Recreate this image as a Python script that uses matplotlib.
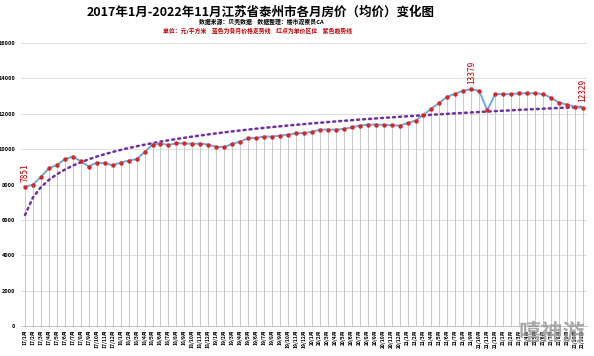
import numpy as np
import matplotlib
matplotlib.use('Agg')
import matplotlib.pyplot as plt

plt.rcParams['font.family'] = ['Noto Sans CJK SC', 'DejaVu Sans']

# monthly average price, 2017/1 .. 2022/11
prices = [7851, 8000, 8430, 8918, 9104, 9425, 9577, 9313, 9014, 9239, 9200, 9087,
          9239, 9352, 9425, 9837, 10253, 10310, 10231, 10327, 10320, 10300, 10310, 10253,
          10120, 10120, 10290, 10420, 10610, 10630, 10705, 10705, 10760, 10817, 10890, 10910,
          10965, 11100, 11100, 11100, 11135, 11228, 11324, 11380, 11380, 11370, 11350, 11320,
          11470, 11605, 11940, 12280, 12620, 12958, 13127, 13296, 13379, 13275, 12186, 13105,
          13105, 13105, 13145, 13145, 13145, 13105, 12900, 12620, 12507, 12395, 12329]
years = [17, 18, 19, 20, 21, 22]
months = [f'{y}/{m}月' for y in years for m in range(1, 13)][:len(prices)]
labeled = [0, 56, 70]  # points with value labels

x = np.arange(len(prices))
y = np.array(prices)

# log trendline fitted on the data (like Excel's)
b, a = np.polyfit(np.log(x + 1), y, 1)
trend = a + b * np.log(x + 1)

fig = plt.figure(figsize=(5.94, 3.56), dpi=100)
ax = fig.add_axes([0.0354, 0.0834, 0.9526, 0.7966])

ax.set_ylim(0, 16000)
ax.set_xlim(-0.5, len(prices) - 0.5)
ax.set_yticks(range(0, 16001, 2000))
ax.grid(axis='y', color='#d9d9d9', linewidth=0.6)
ax.set_axisbelow(True)

# drop lines
ax.vlines(x, 0, y, color='#c8c8c8', linewidth=0.7, zorder=1)

ax.plot(x, y, color='#6fa8dc', linewidth=1.4, zorder=3)
ax.plot(x, y, 'o', color='#d62728', markersize=3.2, markeredgewidth=0, zorder=4)
ax.plot(x, trend, color='#7030a0', linewidth=1.8, linestyle=(0, (0.8, 1.6)),
        dash_capstyle='round', zorder=2)

for i in labeled:
    ax.annotate(str(prices[i]), (i, prices[i]), xytext=(0, 4), textcoords='offset points',
                rotation=90, ha='center', va='bottom', color='#c00000', fontsize=6)

for s in ['top', 'right', 'left']:
    ax.spines[s].set_visible(False)
ax.spines['bottom'].set_color('#bfbfbf')
ax.spines['bottom'].set_linewidth(0.6)

ax.set_xticks(x)
ax.set_xticklabels(months, rotation=90, fontsize=3.6, fontweight='bold')
ax.tick_params(axis='x', length=0, pad=2)
ax.tick_params(axis='y', length=0, labelsize=4, pad=4)
for t in ax.get_yticklabels():
    t.set_fontweight('bold')

fig.text(0.438, 0.966, '2017年1月-2022年11月江苏省泰州市各月房价（均价）变化图',
         ha='center', va='center', fontsize=9, fontweight='bold')
fig.text(0.44, 0.938, '数据来源：贝壳数据    数据整理：楼市观察员CA',
         ha='center', va='center', fontsize=4.2, fontweight='bold')
fig.text(0.433, 0.914, '单位：元/平方米    蓝色为各月价格走势线    红点为单价区位    紫色趋势线',
         ha='center', va='center', fontsize=4.2, fontweight='bold', color='#c00000')

# watermark
fig.text(0.93, 0.065, '嘻神游', ha='center', va='center', fontsize=16,
         fontweight='bold', color='#9a9a9a', alpha=0.85)

fig.savefig('out.png', dpi=100)
